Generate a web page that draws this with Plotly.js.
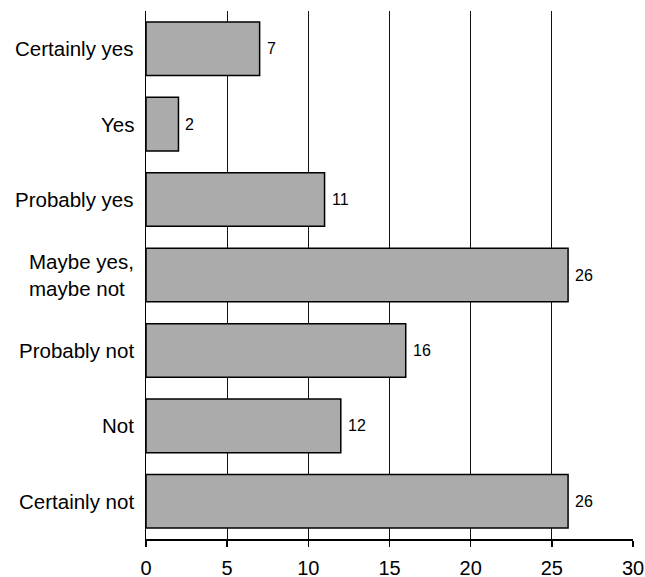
<!DOCTYPE html>
<html><head><meta charset="utf-8">
<script src="https://cdn.plot.ly/plotly-3.0.1.min.js"></script>
<style>html,body{margin:0;padding:0;background:#fff}</style>
</head><body><div id="chart" style="width:645px;height:577px"></div>
<script>
const categories = ["Certainly yes", "Yes", "Probably yes", "Maybe yes,<br>maybe not", "Probably not", "Not", "Certainly not"];
const values = [7, 2, 11, 26, 16, 12, 26];
const xTicks = [0, 5, 10, 15, 20, 25, 30];

const FONT = 'Liberation Sans, Arial, Helvetica, sans-serif';

const trace = {
  type: 'bar',
  orientation: 'h',
  y: categories,
  x: values,
  marker: {color: '#ababab', line: {color: '#000', width: 1.5}},
  width: 0.71,
  hoverinfo: 'none'
};

const annotations = [];
categories.forEach((c, i) => {
  annotations.push({
    xref: 'paper', yref: 'y', x: 0, y: c, text: c,
    xanchor: 'right', yanchor: 'middle', align: 'left', xshift: -10,
    showarrow: false, font: {family: FONT, size: 20.5, color: '#000'}
  });
  annotations.push({
    xref: 'x', yref: 'y', x: values[i], y: c, text: String(values[i]),
    xanchor: 'left', yanchor: 'middle', xshift: 5,
    showarrow: false, font: {family: FONT, size: 16, color: '#000'}
  });
});

const layout = {
  width: 645, height: 577,
  margin: {l: 146, r: 12, t: 11, b: 38},
  paper_bgcolor: '#fff', plot_bgcolor: '#fff',
  showlegend: false,
  font: {family: FONT, color: '#000'},
  annotations: annotations,
  xaxis: {
    range: [0, 30], tickvals: xTicks, ticktext: xTicks.map(String),
    showgrid: true, gridcolor: '#111', gridwidth: 1.3,
    showline: true, linecolor: '#000', linewidth: 1.5,
    ticks: 'outside', ticklen: 6, tickwidth: 1.5, tickcolor: '#000',
    ticklabelstandoff: 4,
    tickfont: {size: 20}, zeroline: false, fixedrange: true
  },
  yaxis: {
    autorange: 'reversed', type: 'category',
    showgrid: false, showline: true, linecolor: '#000', linewidth: 1.5,
    ticks: '', showticklabels: false, fixedrange: true
  }
};

Plotly.newPlot('chart', [trace], layout, {displayModeBar: false, staticPlot: true});
</script></body></html>
